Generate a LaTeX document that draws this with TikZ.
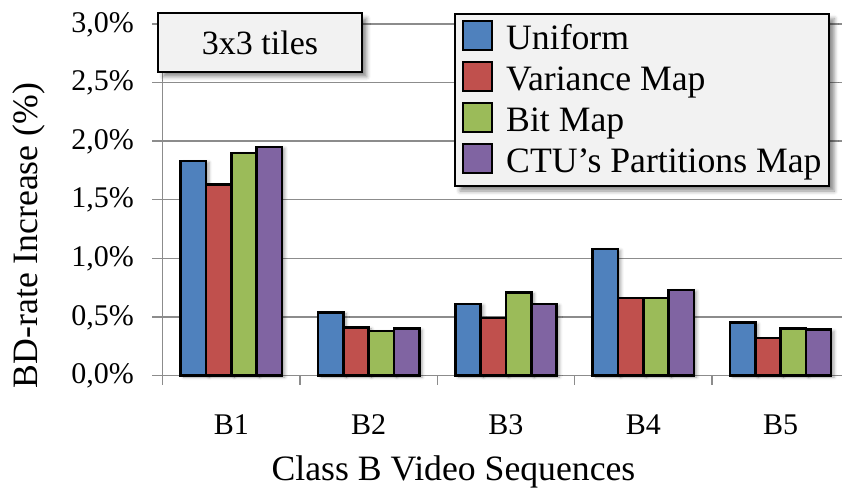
\documentclass[tikz,border=0pt]{standalone}
\usepackage{fontspec}
\setmainfont{Liberation Serif}
\usetikzlibrary{shadows.blur}
\definecolor{cblue}{HTML}{4F81BD}
\definecolor{cred}{HTML}{C0504D}
\definecolor{cgreen}{HTML}{9BBB59}
\definecolor{cpurple}{HTML}{8064A2}
\definecolor{gridgray}{HTML}{8C8C8C}
\definecolor{boxfill}{HTML}{F2F2F2}
\begin{document}
\begin{tikzpicture}[x=1pt,y=-1pt,
  gridline/.style={draw=gridgray,line width=1.3pt},
  barbox/.style={draw=black,line width=2.6pt,
    blur shadow={shadow xshift=3pt,shadow yshift=-1.5pt,shadow blur radius=3pt,shadow opacity=35}},
  boxstyle/.style={draw=black,line width=2pt,fill=boxfill,
    blur shadow={shadow xshift=5pt,shadow yshift=-5pt,shadow blur radius=4pt,shadow opacity=45}},
  keybox/.style={draw=black,line width=2pt},
  ticklab/.style={font=\fontsize{30}{36}\selectfont,anchor=east,inner sep=0pt},
  catlab/.style={font=\fontsize{30}{36}\selectfont,anchor=base,inner sep=0pt},
  bigtext/.style={font=\fontsize{35.7}{42}\selectfont,inner sep=0pt}
]
\useasboundingbox (0,0) rectangle (842,489);
% grid and axes
\foreach \k/\lab in {0/{0,0\%},1/{0,5\%},2/{1,0\%},3/{1,5\%},4/{2,0\%},5/{2,5\%},6/{3,0\%}}{
  \draw[gridline] (152,{375.5-58.6*\k}) -- (842,{375.5-58.6*\k});
  \node[ticklab] (t\k) at (134,{376-58.6*\k}) {\lab};
}
\draw[gridline] (162.7,23.9) -- (162.7,385);
\foreach \j in {1,...,4}{
  \draw[gridline] ({162.7+137.3*\j},375.5) -- ({162.7+137.3*\j},385);
}
% bars
\foreach \i/\a/\b/\c/\d in {1/1.83/1.63/1.90/1.95, 2/0.54/0.41/0.38/0.40, 3/0.61/0.49/0.71/0.61, 4/1.08/0.66/0.66/0.73, 5/0.45/0.32/0.40/0.39}{
  \pgfmathsetmacro\xo{162.7+137.3*(\i-1)+18}
  \draw[barbox,fill=cblue] (\xo,375.5) rectangle ({\xo+25.3},{375.5-117.2*\a});
  \draw[barbox,fill=cred] ({\xo+25.3},375.5) rectangle ({\xo+50.6},{375.5-117.2*\b});
  \draw[barbox,fill=cgreen] ({\xo+50.6},375.5) rectangle ({\xo+75.9},{375.5-117.2*\c});
  \draw[barbox,fill=cpurple] ({\xo+75.9},375.5) rectangle ({\xo+101.2},{375.5-117.2*\d});
  \node[catlab] (c\i) at ({162.7+137.3*(\i-0.5)},434) {B\i};
}
% axis titles
\node[bigtext,rotate=90,anchor=base] (ytitle) at (37,235.5) {BD-rate Increase (\%)};
\node[bigtext,anchor=base] (xtitle) at (453.5,480) {Class B Video Sequences};
% 3x3 tiles box
\node[boxstyle,minimum width=203.4pt,minimum height=58.4pt,anchor=north west,
  font=\fontsize{34}{40}\selectfont,inner sep=0pt] (tiles) at (157.3,12.3) {3x3 tiles};
% legend
\node[boxstyle,minimum width=374.3pt,minimum height=172.3pt,anchor=north west,inner sep=0pt] (legend) at (454,12.7) {};
\foreach \k/\col/\txt in {0/cblue/Uniform,1/cred/Variance Map,2/cgreen/Bit Map,3/cpurple/CTU’s Partitions Map}{
  \draw[keybox,fill=\col] (462.7,{20.7+41*\k}) rectangle (492.3,{50+41*\k});
  \node[bigtext,anchor=base west] (l\k) at (506,{49.5+41*\k}) {\txt};
}
\end{tikzpicture}
\end{document}
